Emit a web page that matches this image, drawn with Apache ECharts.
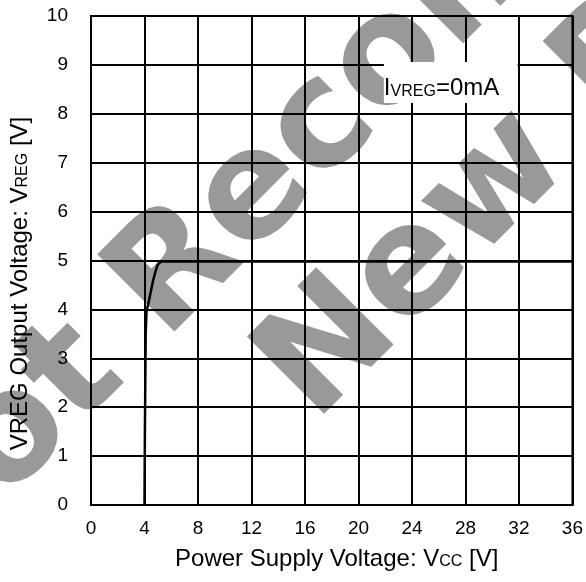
<!DOCTYPE html>
<html>
<head>
<meta charset="utf-8">
<script src="https://cdn.jsdelivr.net/npm/echarts@6/dist/echarts.min.js"></script>
<style>
  html, body { margin: 0; padding: 0; background: #fff; }
  #Chart { width: 586px; height: 582px; }
</style>
</head>
<body>
<div id="Chart"></div>
<script>
var vccVolts = [4.0, 4.03, 4.06, 4.09, 4.15, 4.35, 4.5, 4.65, 4.85, 5.0, 5.25, 36];
var vregVolts = [0, 1.5, 2.5, 3.5, 3.95, 4.2, 4.4, 4.6, 4.8, 4.92, 4.98, 4.98];
var xTicks = [0, 4, 8, 12, 16, 20, 24, 28, 32, 36];
var yTicks = [0, 1, 2, 3, 4, 5, 6, 7, 8, 9, 10];
var noteBox = [[21.9, 8.22], [31.9, 9.06]];

var FONT = '"Liberation Sans", Arial, sans-serif';
var MARK_FONT = '"DejaVu Sans", sans-serif';
var Chart = echarts.init(document.getElementById('Chart'));

var points = vccVolts.map(function (v, i) { return [v, vregVolts[i]]; });

var option = {
    backgroundColor: '#fff',
    animation: false,
    textStyle: { fontFamily: FONT },
    grid: {
        left: 90, right: 8, top: 16, bottom: 77,
        show: true, borderColor: '#000', borderWidth: 2, backgroundColor: 'transparent'
    },
    xAxis: {
        type: 'value',
        min: xTicks[0], max: xTicks[xTicks.length - 1], interval: 4,
        name: 'Power Supply Voltage: V{s|CC} [V]',
        nameLocation: 'middle',
        nameGap: 42,
        nameTextStyle: {
            fontSize: 24, color: '#000', fontFamily: FONT, padding: [0, 0, 0, 10],
            rich: { s: { fontSize: 16, color: '#000', fontFamily: FONT, verticalAlign: 'bottom', padding: [0, 0, 1, 0] } }
        },
        axisLine: { lineStyle: { color: '#000', width: 2 } },
        axisTick: { show: false },
        axisLabel: { fontSize: 19, color: '#000', margin: 14, fontFamily: FONT },
        splitLine: { show: true, lineStyle: { color: '#000', width: 2 } }
    },
    yAxis: {
        type: 'value',
        min: yTicks[0], max: yTicks[yTicks.length - 1], interval: 1,
        name: 'VREG Output Voltage: V{s|REG} [V]',
        nameLocation: 'middle',
        nameGap: 59,
        nameTextStyle: {
            fontSize: 24, color: '#000', fontFamily: FONT, padding: [0, 46, 0, 0],
            rich: { s: { fontSize: 16, color: '#000', fontFamily: FONT, verticalAlign: 'bottom', padding: [0, 0, 1, 0] } }
        },
        axisLine: { lineStyle: { color: '#000', width: 2 } },
        axisTick: { show: false },
        axisLabel: { fontSize: 19, color: '#000', margin: 23, fontFamily: FONT },
        splitLine: { show: true, lineStyle: { color: '#000', width: 2 } }
    },
    graphic: [
        {
            type: 'text', x: -112, y: 563, rotation: Math.PI / 4, z: -1, silent: true,
            style: { text: 'Not Recommended for', fontSize: 150, fontWeight: 'bold', fontFamily: MARK_FONT, fill: '#999', align: 'left', verticalAlign: 'middle' }
        },
        {
            type: 'text', x: 287, y: 396, rotation: Math.PI / 4, z: -1, silent: true,
            style: { text: 'New Designs', fontSize: 150, fontWeight: 'bold', fontFamily: MARK_FONT, fill: '#999', align: 'left', verticalAlign: 'middle' }
        }
    ],
    series: [{
        type: 'line',
        data: points,
        showSymbol: false,
        lineStyle: { color: '#000', width: 2.5 },
        clip: false,
        markArea: {
            silent: true,
            itemStyle: { color: '#fff', opacity: 1, borderWidth: 0 },
            label: {
                show: true,
                position: 'insideLeft',
                distance: 0,
                offset: [0, 6],
                formatter: '{m|I}{s|VREG}{m|=0mA}',
                rich: {
                    m: { fontSize: 24, color: '#000', fontFamily: FONT },
                    s: { fontSize: 16, color: '#000', fontFamily: FONT, verticalAlign: 'bottom', padding: [0, 0, 1, 0] }
                }
            },
            data: [[{ coord: noteBox[0] }, { coord: noteBox[1] }]]
        }
    }]
};

Chart.setOption(option);

window.addEventListener("resize", function () {
    Chart.resize();
});
</script>
</body>
</html>
